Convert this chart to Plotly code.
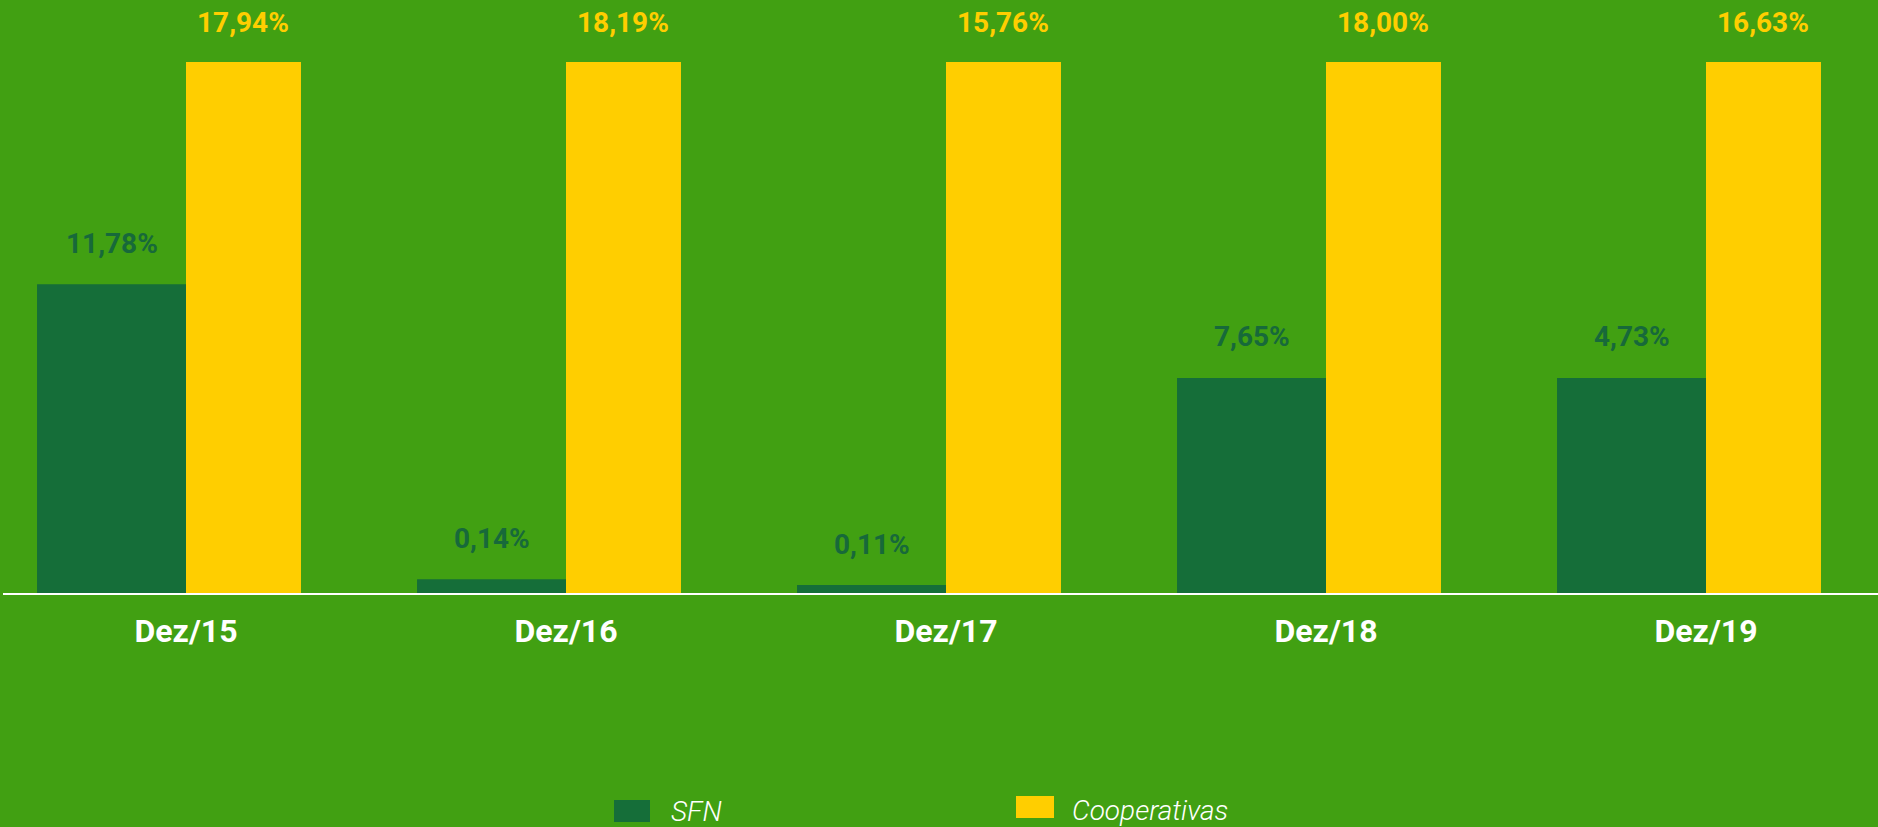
import plotly.graph_objects as go

# ---- data ----
categories = ["Dez/15", "Dez/16", "Dez/17", "Dez/18", "Dez/19"]
sfn_labels = ["11,78%", "0,14%", "0,11%", "7,65%", "4,73%"]
coop_labels = ["17,94%", "18,19%", "15,76%", "18,00%", "16,63%"]
# bar heights as drawn in the picture (same units as the chart's y-axis)
sfn_heights = [10.47, 0.47, 0.27, 7.29, 7.29]
coop_heights = [18.0, 18.0, 18.0, 18.0, 18.0]

# ---- styles ----
BG = "#41A012"
DARK = "#156E39"
YELLOW = "#FFCE00"
LABEL_DARK = "#17693A"
FONT = "Roboto"

W, H = 1878, 827
ML, MR, MT, MB = 3, 0, 0, 234
GREEN_W = 0.392
YELLOW_W = 0.3026

fig = go.Figure()
xs = list(range(len(categories)))
fig.add_trace(go.Bar(
    x=xs, y=sfn_heights, name="SFN", marker=dict(color=DARK, line=dict(width=0)),
    width=GREEN_W, offset=-GREEN_W, showlegend=False, hoverinfo="skip"))
fig.add_trace(go.Bar(
    x=xs, y=coop_heights, name="Cooperativas", marker=dict(color=YELLOW, line=dict(width=0)),
    width=YELLOW_W, offset=0, showlegend=False, hoverinfo="skip"))

annotations = []
for i, (h, t) in enumerate(zip(sfn_heights, sfn_labels)):
    annotations.append(dict(x=i - GREEN_W / 2, y=h, xref="x", yref="y", text=t,
                            showarrow=False, yshift=41, yanchor="middle", xanchor="center",
                            font=dict(family=FONT, size=28, color=LABEL_DARK, weight="bold")))
for i, (h, t) in enumerate(zip(coop_heights, coop_labels)):
    annotations.append(dict(x=i + YELLOW_W / 2, y=h, xref="x", yref="y", text=t,
                            showarrow=False, yshift=40, yanchor="middle", xanchor="center",
                            font=dict(family=FONT, size=28, color=YELLOW, weight="bold")))

# custom legend (pixel positions converted to paper coords)
PW, PH = W - ML - MR, H - MT - MB
def px(xp):
    return (xp - ML) / PW
def py(yp):
    return (H - MB - yp) / PH

shapes = [
    dict(type="rect", xref="paper", yref="paper", x0=px(614), x1=px(650), y0=py(822), y1=py(800),
         fillcolor=DARK, line=dict(width=0)),
    dict(type="rect", xref="paper", yref="paper", x0=px(1016), x1=px(1054), y0=py(818), y1=py(796),
         fillcolor=YELLOW, line=dict(width=0)),
]
legend_font = dict(family=FONT, size=28, color="white", style="italic", weight=300)
annotations.append(dict(x=px(669), y=py(811), xref="paper", yref="paper", text="SFN",
                        showarrow=False, xanchor="left", yanchor="middle", font=legend_font))
annotations.append(dict(x=px(1070), y=py(810), xref="paper", yref="paper", text="Cooperativas",
                        showarrow=False, xanchor="left", yanchor="middle", font=legend_font))

x0 = -183 / 380
x1 = (W - 186) / 380
fig.update_layout(
    width=W, height=H,
    margin=dict(l=ML, r=MR, t=MT, b=MB, pad=0),
    paper_bgcolor=BG, plot_bgcolor=BG,
    barmode="overlay",
    xaxis=dict(range=[x0, x1], tickvals=xs, ticktext=categories, showgrid=False,
               zeroline=False, showline=True, linecolor="white", linewidth=2,
               ticks="", ticklabelstandoff=9,
               tickfont=dict(family=FONT, size=32, color="white", weight="bold"), fixedrange=True),
    yaxis=dict(range=[0, 18.0 * 593 / 531], showgrid=False, zeroline=False, showticklabels=False,
               showline=False, fixedrange=True),
    annotations=annotations,
    shapes=shapes,
    showlegend=False,
)

fig.write_html("out.html", config={"displayModeBar": False})
